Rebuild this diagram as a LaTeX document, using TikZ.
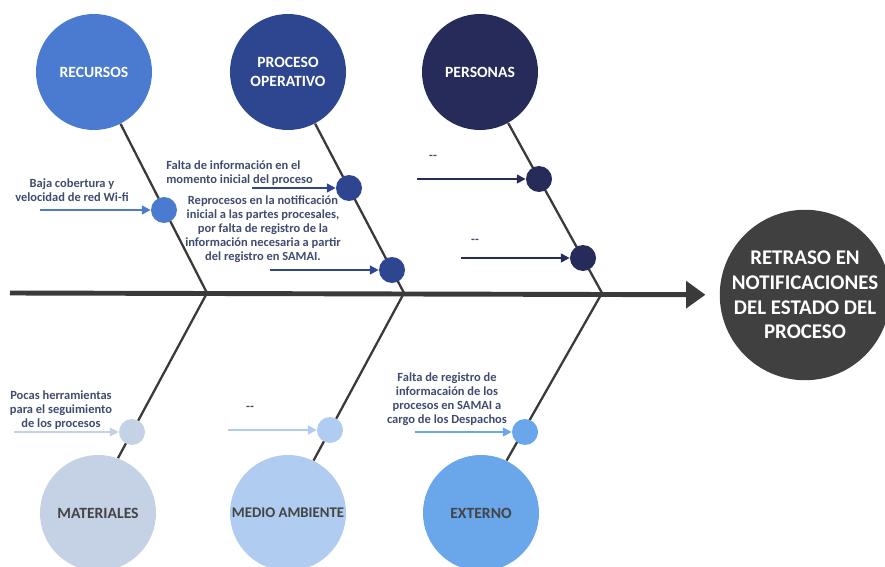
\documentclass[tikz,border=0pt]{standalone}
\usepackage{fontspec}
\setmainfont{Carlito}
\usetikzlibrary{arrows.meta}
\definecolor{recursos}{RGB}{74,123,208}
\definecolor{proceso}{RGB}{46,70,144}
\definecolor{personas}{RGB}{38,43,90}
\definecolor{materiales}{RGB}{197,210,230}
\definecolor{medio}{RGB}{176,204,240}
\definecolor{externo}{RGB}{106,166,234}
\definecolor{espina}{RGB}{58,58,58}
\definecolor{efecto}{RGB}{64,64,64}
\definecolor{notatexto}{RGB}{64,76,110}
\definecolor{gristexto}{RGB}{68,68,68}

\begin{document}
\begin{tikzpicture}[x=0.02cm,y=-0.02cm,
    categoria/.style={circle,fill=#1,minimum size=2.32cm,inner sep=0pt,
      font=\bfseries\fontsize{8.9}{11}\selectfont,align=center},
    punto/.style={circle,fill=#1,minimum size=0.52cm,inner sep=0pt},
    nota/.style={font=\bfseries\fontsize{7.1}{8}\selectfont,text=notatexto,
      align=center,inner sep=0pt},
    flecha/.style={draw=#1,line width=1.1pt,-{Triangle[length=5pt,width=5pt]}},
    hueso/.style={draw=espina,line width=1.3pt}]
  \useasboundingbox (0,0) rectangle (885,567);

  \node[categoria=recursos,text=white] (rec) at (94,72) {RECURSOS};
  \node[categoria=proceso,text=white] (pro) at (288,72) {PROCESO\\OPERATIVO};
  \node[categoria=personas,text=white] (per) at (480,72) {PERSONAS};
  \node[categoria=materiales,text=gristexto] (mat) at (98,513) {MATERIALES};
  \node[categoria=medio,text=gristexto,font=\bfseries\fontsize{8.4}{11}\selectfont]
    (med) at (288,513) {MEDIO AMBIENTE};
  \node[categoria=externo,text=gristexto] (ext) at (481,513) {EXTERNO};
  \node[circle,fill=efecto,minimum size=3.36cm,inner sep=0pt,text=white,align=center,
    font=\bfseries\fontsize{11.9}{14}\selectfont] (efe) at (805,295)
    {RETRASO EN\\NOTIFICACIONES\\DEL ESTADO DEL\\PROCESO};

  \coordinate (cola) at (10,293);
  \coordinate (s1) at (207,293);
  \coordinate (s2) at (404,293);
  \coordinate (s3) at (602,293);
  \draw[draw=espina,line width=2.8pt,-{Triangle[length=11pt,width=15pt]},
    shorten >=0.28cm] (cola) -- (efe);

  \draw[hueso] (rec) -- (s1) -- (mat.70);
  \draw[hueso] (pro) -- (s2) -- (med.64);
  \draw[hueso] (per) -- (s3) -- (ext.64);

  \node[punto=recursos] (d1) at (164,210) {};
  \node[punto=proceso] (d2) at (349,188) {};
  \node[punto=proceso] (d3) at (392,270) {};
  \node[punto=personas] (d4) at (539,179) {};
  \node[punto=personas] (d5) at (583,258) {};
  \node[punto=materiales] (d6) at (132,432) {};
  \node[punto=medio] (d7) at (330,430) {};
  \node[punto=externo] (d8) at (525,432) {};

  \coordinate (a1) at (40,210);
  \coordinate (a2) at (252,188);
  \coordinate (a3) at (270,270);
  \coordinate (a4) at (417,179);
  \coordinate (a5) at (461,258);
  \coordinate (a6) at (14,432);
  \coordinate (a7) at (228,430);
  \coordinate (a8) at (415,432);
  \draw[flecha=recursos] (a1) -- (d1);
  \draw[flecha=proceso] (a2) -- (d2);
  \draw[flecha=proceso] (a3) -- (d3);
  \draw[flecha=personas] (a4) -- (d4);
  \draw[flecha=personas] (a5) -- (d5);
  \draw[flecha=materiales] (a6) -- (d6);
  \draw[flecha=medio] (a7) -- (d7);
  \draw[flecha=externo] (a8) -- (d8);

  \node[nota] (t1) at (72,190) {Baja cobertura y\\velocidad de red Wi-fi};
  \node[nota,anchor=west,align=left] (t2) at (166,173)
    {Falta de información en el\\momento inicial del proceso};
  \node[nota] (t3) at (263,229) {Reprocesos en la notificación\\inicial a las partes procesales,\\por falta de registro de la\\información necesaria a partir\\del registro en SAMAI.};
  \node[nota] (t4) at (433,157) {-{}-};
  \node[nota] (t5) at (475,241) {-{}-};
  \node[nota] (t6) at (61,410) {Pocas herramientas\\para el seguimiento\\de los procesos};
  \node[nota] (t7) at (250,408) {-{}-};
  \node[nota] (t8) at (447,399) {Falta de registro de\\informacaión de los\\procesos en SAMAI a\\cargo de los Despachos};
\end{tikzpicture}
\end{document}
